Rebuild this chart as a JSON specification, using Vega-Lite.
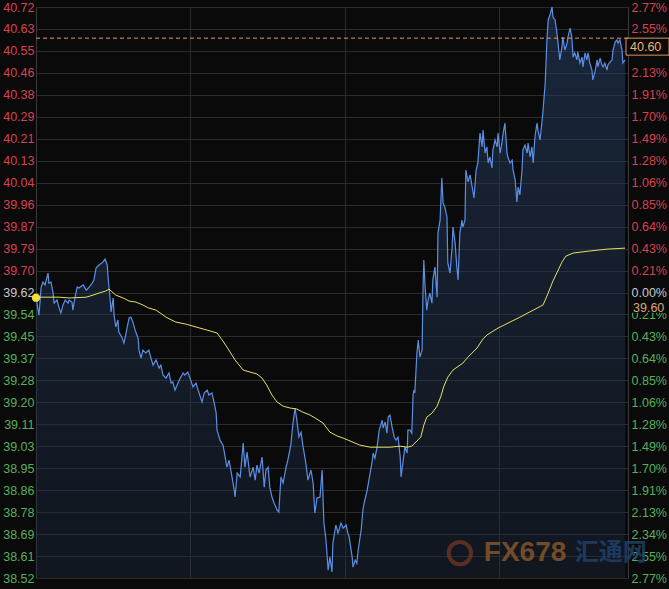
{
"$schema": "https://vega.github.io/schema/vega-lite/v6.json",
"width": 592, "height": 571,
"autosize": {"type": "none"},
"padding": {"left": 36, "top": 7, "right": 41, "bottom": 11},
"background": "#0a0a0a",
"config": {"view": {"stroke": null}, "axis": {"labelFont": "Liberation Sans", "labelFontSize": 12.5}, "text": {"font": "Liberation Sans"}},
"datasets": {
"price": [{"t":0,"p":39.6},{"t":7,"p":39.533},{"t":12,"p":39.641},{"t":16,"p":39.66},{"t":21,"p":39.649},{"t":28,"p":39.695},{"t":30,"p":39.656},{"t":35,"p":39.66},{"t":40,"p":39.618},{"t":42,"p":39.579},{"t":49,"p":39.591},{"t":54,"p":39.56},{"t":58,"p":39.541},{"t":63,"p":39.572},{"t":68,"p":39.591},{"t":75,"p":39.579},{"t":77,"p":39.591},{"t":84,"p":39.583},{"t":86,"p":39.552},{"t":91,"p":39.602},{"t":96,"p":39.641},{"t":100,"p":39.637},{"t":110,"p":39.649},{"t":117,"p":39.629},{"t":124,"p":39.641},{"t":131,"p":39.656},{"t":135,"p":39.668},{"t":140,"p":39.714},{"t":147,"p":39.726},{"t":156,"p":39.737},{"t":161,"p":39.749},{"t":166,"p":39.726},{"t":168,"p":39.68},{"t":170,"p":39.641},{"t":173,"p":39.591},{"t":175,"p":39.545},{"t":180,"p":39.599},{"t":182,"p":39.533},{"t":186,"p":39.487},{"t":191,"p":39.514},{"t":193,"p":39.468},{"t":200,"p":39.448},{"t":205,"p":39.425},{"t":210,"p":39.464},{"t":217,"p":39.522},{"t":221,"p":39.525},{"t":226,"p":39.506},{"t":231,"p":39.475},{"t":238,"p":39.444},{"t":240,"p":39.398},{"t":245,"p":39.367},{"t":249,"p":39.398},{"t":256,"p":39.387},{"t":263,"p":39.398},{"t":268,"p":39.367},{"t":273,"p":39.34},{"t":280,"p":39.36},{"t":287,"p":39.329},{"t":291,"p":39.34},{"t":296,"p":39.302},{"t":303,"p":39.29},{"t":310,"p":39.31},{"t":315,"p":39.271},{"t":319,"p":39.275},{"t":324,"p":39.244},{"t":331,"p":39.271},{"t":336,"p":39.29},{"t":343,"p":39.31},{"t":347,"p":39.302},{"t":354,"p":39.313},{"t":359,"p":39.29},{"t":366,"p":39.256},{"t":373,"p":39.271},{"t":378,"p":39.244},{"t":387,"p":39.198},{"t":392,"p":39.233},{"t":399,"p":39.244},{"t":403,"p":39.225},{"t":410,"p":39.233},{"t":415,"p":39.198},{"t":420,"p":39.155},{"t":422,"p":39.09},{"t":429,"p":39.051},{"t":436,"p":39.032},{"t":441,"p":38.986},{"t":445,"p":38.947},{"t":450,"p":38.974},{"t":457,"p":38.909},{"t":462,"p":38.859},{"t":464,"p":38.832},{"t":469,"p":38.924},{"t":476,"p":38.909},{"t":483,"p":39.04},{"t":487,"p":38.947},{"t":492,"p":39.005},{"t":499,"p":38.909},{"t":506,"p":38.947},{"t":511,"p":38.897},{"t":515,"p":38.955},{"t":520,"p":38.924},{"t":527,"p":38.986},{"t":532,"p":38.87},{"t":536,"p":38.936},{"t":541,"p":38.947},{"t":545,"p":38.87},{"t":550,"p":38.832},{"t":555,"p":38.809},{"t":562,"p":38.782},{"t":566,"p":38.774},{"t":571,"p":38.909},{"t":576,"p":38.886},{"t":583,"p":38.947},{"t":587,"p":38.974},{"t":594,"p":39.032},{"t":599,"p":39.117},{"t":604,"p":39.175},{"t":608,"p":39.128},{"t":613,"p":39.063},{"t":618,"p":39.082},{"t":622,"p":39.032},{"t":629,"p":38.963},{"t":634,"p":38.897},{"t":641,"p":38.936},{"t":646,"p":38.886},{"t":650,"p":38.77},{"t":655,"p":38.828},{"t":662,"p":38.832},{"t":667,"p":38.936},{"t":671,"p":38.735},{"t":676,"p":38.666},{"t":681,"p":38.55},{"t":685,"p":38.601},{"t":690,"p":38.543},{"t":692,"p":38.654},{"t":699,"p":38.724},{"t":704,"p":38.693},{"t":711,"p":38.732},{"t":716,"p":38.712},{"t":723,"p":38.724},{"t":727,"p":38.693},{"t":730,"p":38.678},{"t":737,"p":38.601},{"t":739,"p":38.562},{"t":744,"p":38.589},{"t":748,"p":38.577},{"t":751,"p":38.628},{"t":758,"p":38.705},{"t":762,"p":38.782},{"t":765,"p":38.809},{"t":772,"p":38.859},{"t":776,"p":38.897},{"t":783,"p":38.963},{"t":786,"p":39.001},{"t":790,"p":38.982},{"t":795,"p":39.024},{"t":800,"p":39.09},{"t":807,"p":39.128},{"t":809,"p":39.098},{"t":814,"p":39.121},{"t":818,"p":39.078},{"t":821,"p":39.14},{"t":825,"p":39.148},{"t":830,"p":39.102},{"t":835,"p":39.063},{"t":839,"p":39.051},{"t":844,"p":39.063},{"t":849,"p":38.986},{"t":851,"p":38.909},{"t":856,"p":38.974},{"t":860,"p":39.024},{"t":865,"p":39.001},{"t":867,"p":39.09},{"t":872,"p":39.09},{"t":876,"p":39.078},{"t":879,"p":39.225},{"t":881,"p":39.244},{"t":883,"p":39.233},{"t":888,"p":39.387},{"t":891,"p":39.437},{"t":895,"p":39.371},{"t":900,"p":39.398},{"t":902,"p":39.618},{"t":904,"p":39.745},{"t":907,"p":39.641},{"t":911,"p":39.552},{"t":914,"p":39.591},{"t":918,"p":39.618},{"t":923,"p":39.579},{"t":925,"p":39.668},{"t":930,"p":39.718},{"t":935,"p":39.602},{"t":937,"p":39.849},{"t":942,"p":39.899},{"t":946,"p":40.061},{"t":949,"p":39.965},{"t":953,"p":39.949},{"t":958,"p":39.911},{"t":960,"p":39.734},{"t":965,"p":39.695},{"t":970,"p":39.795},{"t":972,"p":39.872},{"t":977,"p":39.811},{"t":981,"p":39.718},{"t":984,"p":39.668},{"t":988,"p":39.849},{"t":993,"p":39.899},{"t":995,"p":39.872},{"t":1000,"p":39.899},{"t":1002,"p":40.092},{"t":1007,"p":40.046},{"t":1012,"p":40.073},{"t":1016,"p":40.034},{"t":1021,"p":39.984},{"t":1026,"p":40.092},{"t":1030,"p":40.119},{"t":1035,"p":40.234},{"t":1040,"p":40.181},{"t":1042,"p":40.246},{"t":1047,"p":40.157},{"t":1051,"p":40.181},{"t":1054,"p":40.119},{"t":1058,"p":40.142},{"t":1063,"p":40.1},{"t":1065,"p":40.169},{"t":1070,"p":40.208},{"t":1075,"p":40.181},{"t":1077,"p":40.234},{"t":1082,"p":40.157},{"t":1086,"p":40.196},{"t":1089,"p":40.234},{"t":1093,"p":40.273},{"t":1098,"p":40.157},{"t":1100,"p":40.142},{"t":1105,"p":40.119},{"t":1110,"p":40.13},{"t":1112,"p":40.092},{"t":1117,"p":40.053},{"t":1121,"p":39.969},{"t":1124,"p":40.026},{"t":1128,"p":39.996},{"t":1133,"p":40.092},{"t":1135,"p":40.169},{"t":1140,"p":40.188},{"t":1145,"p":40.157},{"t":1147,"p":40.196},{"t":1152,"p":40.142},{"t":1156,"p":40.181},{"t":1159,"p":40.119},{"t":1163,"p":40.219},{"t":1168,"p":40.273},{"t":1170,"p":40.246},{"t":1175,"p":40.208},{"t":1180,"p":40.285},{"t":1182,"p":40.323},{"t":1187,"p":40.427},{"t":1191,"p":40.593},{"t":1194,"p":40.67},{"t":1198,"p":40.689},{"t":1203,"p":40.72},{"t":1205,"p":40.681},{"t":1210,"p":40.67},{"t":1214,"p":40.624},{"t":1217,"p":40.581},{"t":1221,"p":40.516},{"t":1226,"p":40.566},{"t":1228,"p":40.604},{"t":1233,"p":40.554},{"t":1238,"p":40.581},{"t":1240,"p":40.604},{"t":1245,"p":40.639},{"t":1249,"p":40.604},{"t":1252,"p":40.527},{"t":1256,"p":40.543},{"t":1261,"p":40.516},{"t":1263,"p":40.547},{"t":1268,"p":40.504},{"t":1273,"p":40.527},{"t":1275,"p":40.489},{"t":1280,"p":40.543},{"t":1284,"p":40.516},{"t":1287,"p":40.543},{"t":1291,"p":40.504},{"t":1296,"p":40.477},{"t":1298,"p":40.439},{"t":1303,"p":40.47},{"t":1308,"p":40.516},{"t":1310,"p":40.489},{"t":1315,"p":40.523},{"t":1319,"p":40.497},{"t":1322,"p":40.489},{"t":1326,"p":40.504},{"t":1331,"p":40.477},{"t":1333,"p":40.497},{"t":1338,"p":40.508},{"t":1343,"p":40.516},{"t":1345,"p":40.554},{"t":1350,"p":40.585},{"t":1354,"p":40.593},{"t":1357,"p":40.581},{"t":1361,"p":40.593},{"t":1366,"p":40.554},{"t":1368,"p":40.504},{"t":1373,"p":40.516}],
"avg": [{"t":0,"p":39.599},{"t":12,"p":39.602},{"t":54,"p":39.602},{"t":77,"p":39.599},{"t":117,"p":39.602},{"t":133,"p":39.61},{"t":147,"p":39.618},{"t":163,"p":39.626},{"t":170,"p":39.633},{"t":175,"p":39.626},{"t":186,"p":39.61},{"t":203,"p":39.599},{"t":217,"p":39.587},{"t":233,"p":39.583},{"t":249,"p":39.572},{"t":263,"p":39.56},{"t":280,"p":39.552},{"t":303,"p":39.525},{"t":326,"p":39.506},{"t":350,"p":39.498},{"t":373,"p":39.487},{"t":399,"p":39.475},{"t":422,"p":39.464},{"t":434,"p":39.437},{"t":445,"p":39.41},{"t":464,"p":39.36},{"t":483,"p":39.321},{"t":515,"p":39.306},{"t":527,"p":39.29},{"t":538,"p":39.263},{"t":550,"p":39.225},{"t":562,"p":39.198},{"t":576,"p":39.182},{"t":592,"p":39.175},{"t":608,"p":39.171},{"t":622,"p":39.159},{"t":639,"p":39.148},{"t":655,"p":39.132},{"t":669,"p":39.117},{"t":685,"p":39.082},{"t":702,"p":39.067},{"t":716,"p":39.059},{"t":732,"p":39.048},{"t":755,"p":39.032},{"t":779,"p":39.024},{"t":825,"p":39.024},{"t":849,"p":39.028},{"t":865,"p":39.024},{"t":876,"p":39.028},{"t":888,"p":39.048},{"t":897,"p":39.063},{"t":904,"p":39.109},{"t":911,"p":39.14},{"t":923,"p":39.155},{"t":935,"p":39.182},{"t":944,"p":39.221},{"t":951,"p":39.26},{"t":960,"p":39.294},{"t":972,"p":39.321},{"t":995,"p":39.348},{"t":1007,"p":39.371},{"t":1028,"p":39.406},{"t":1042,"p":39.441},{"t":1051,"p":39.456},{"t":1077,"p":39.483},{"t":1105,"p":39.506},{"t":1128,"p":39.525},{"t":1159,"p":39.552},{"t":1182,"p":39.572},{"t":1194,"p":39.618},{"t":1205,"p":39.664},{"t":1214,"p":39.695},{"t":1226,"p":39.737},{"t":1235,"p":39.76},{"t":1252,"p":39.772},{"t":1291,"p":39.78},{"t":1331,"p":39.787},{"t":1373,"p":39.791}]
},
"layer": [
{
"layer": [
{"data": {"name": "price"},
 "mark": {"type": "area", "line": false, "fill": {"gradient": "linear", "x1": 0, "y1": 0, "x2": 0, "y2": 1, "stops": [{"offset": 0, "color": "rgba(38,62,100,0.55)"}, {"offset": 1, "color": "rgba(30,45,70,0.35)"}]}},
 "encoding": {
  "x": {"field": "t", "type": "quantitative", "scale": {"domain": [0, 1380], "nice": false, "zero": false},
        "axis": {"values": [360, 720, 1080], "labels": false, "ticks": false, "domain": false, "grid": true, "gridColor": "#2b2b2b", "gridWidth": 1, "title": null}},
  "y": {"field": "p", "type": "quantitative", "scale": {"domain": [38.52, 40.72], "nice": false, "zero": false},
        "axis": {"orient": "left", "title": null, "grid": true, "gridColor": "#2b2b2b", "gridWidth": 1, "ticks": false, "tickSize": 0, "tickCount": 40, "labelPadding": 2, "domain": true, "domainColor": "#3a3a3a", "labelFlush": false, "labelOverlap": false, "labelBound": false,
          "values": [38.52,38.604615,38.689231,38.773846,38.858462,38.943077,39.027692,39.112308,39.196923,39.281538,39.366154,39.450769,39.535385,39.62,39.704615,39.789231,39.873846,39.958462,40.043077,40.127692,40.212308,40.296923,40.381538,40.466154,40.550769,40.635385,40.72],
          "labelExpr": "['38.52','38.61','38.69','38.78','38.86','38.95','39.03','39.11','39.20','39.28','39.37','39.45','39.54','39.62','39.70','39.79','39.87','39.96','40.04','40.13','40.21','40.29','40.38','40.46','40.55','40.63','40.72'][round((datum.value-38.52)/0.0846154)]",
          "labelColor": {"condition": [{"test": "datum.value > 39.63", "value": "#d9414f"}, {"test": "datum.value < 39.61", "value": "#58b05c"}], "value": "#c8c8c8"}}},
  "y2": {"datum": 38.52}
 }},
{"data": {"name": "price"},
 "mark": {"type": "line", "color": "#5b8fe3", "strokeWidth": 1.2},
 "encoding": {"x": {"field": "t", "type": "quantitative"}, "y": {"field": "p", "type": "quantitative"}}},
{"data": {"name": "avg"},
 "mark": {"type": "line", "color": "#e8e060", "strokeWidth": 1},
 "encoding": {"x": {"field": "t", "type": "quantitative"}, "y": {"field": "p", "type": "quantitative"}}},
{"data": {"values": [{}]},
 "mark": {"type": "point", "filled": true, "color": "#f2e034", "size": 70, "opacity": 1},
 "encoding": {"x": {"datum": 0}, "y": {"datum": 39.6}}},
{"data": {"values": [{}]},
 "mark": {"type": "point", "filled": false, "stroke": "#6e3426", "strokeWidth": 4, "size": 500, "opacity": 0.8},
 "encoding": {"x": {"datum": 988}, "y": {"datum": 38.616}}},
{"data": {"values": [{}]},
 "mark": {"type": "text", "text": "FX678", "fontSize": 28, "fontWeight": "bold", "color": "#84552a", "opacity": 0.85, "align": "center", "baseline": "middle"},
 "encoding": {"x": {"datum": 1140}, "y": {"datum": 38.616}}},
{"data": {"values": [{}]},
 "mark": {"type": "text", "text": "汇通网", "font": "Noto Sans CJK SC", "fontSize": 24, "fontWeight": "bold", "color": "#21406a", "opacity": 0.85, "align": "center", "baseline": "middle"},
 "encoding": {"x": {"datum": 1340}, "y": {"datum": 38.616}}},
{"data": {"values": [{}]},
 "mark": {"type": "rect", "fill": "#0a0a0a", "stroke": "#d8955a", "strokeWidth": 1, "xOffset": -2, "x2Offset": 41, "y2Offset": 17},
 "encoding": {"x": {"datum": 1380}, "x2": {"datum": 1380}, "y": {"datum": 40.6}, "y2": {"datum": 40.6}}},
{"data": {"values": [{}]},
 "mark": {"type": "text", "text": "40.60", "fontSize": 12.5, "color": "#f0b070", "align": "left", "baseline": "middle", "dx": 2, "dy": 9},
 "encoding": {"x": {"datum": 1380}, "y": {"datum": 40.6}}},
{"data": {"values": [{}]},
 "mark": {"type": "rect", "fill": "#0a0a0a", "xOffset": 1, "x2Offset": 41, "y2Offset": 15},
 "encoding": {"x": {"datum": 1380}, "x2": {"datum": 1380}, "y": {"datum": 39.6}, "y2": {"datum": 39.6}}},
{"data": {"values": [{}]},
 "mark": {"type": "text", "text": "39.60", "fontSize": 12.5, "color": "#d8a878", "align": "left", "baseline": "middle", "dx": 5, "dy": 10},
 "encoding": {"x": {"datum": 1380}, "y": {"datum": 39.6}}}
]
},
{
 "data": {"values": [{}]},
 "mark": {"type": "rule", "color": "#e39a5c", "strokeDash": [4, 3], "strokeWidth": 1},
 "encoding": {
  "y": {"datum": 40.6, "type": "quantitative", "scale": {"domain": [38.52, 40.72], "nice": false, "zero": false},
        "axis": {"orient": "right", "title": null, "grid": false, "ticks": false, "tickSize": 0, "tickCount": 40, "labelPadding": 3, "domain": true, "domainColor": "#3a3a3a", "labelFlush": false, "labelOverlap": false, "labelBound": false,
          "values": [38.52,38.604615,38.689231,38.773846,38.858462,38.943077,39.027692,39.112308,39.196923,39.281538,39.366154,39.450769,39.535385,39.62,39.704615,39.789231,39.873846,39.958462,40.043077,40.127692,40.212308,40.296923,40.381538,40.466154,40.550769,40.635385,40.72],
          "labelExpr": "['0.00','0.21','0.43','0.64','0.85','1.06','1.28','1.49','1.70','1.91','2.13','2.34','2.55','2.77'][abs(round((datum.value-38.52)/0.0846154)-13)] + '%'",
          "labelColor": {"condition": [{"test": "datum.value > 39.63", "value": "#d9414f"}, {"test": "datum.value < 39.61", "value": "#58b05c"}], "value": "#c8c8c8"}}}
 }
}
],
"resolve": {"scale": {"y": "independent"}}
}
